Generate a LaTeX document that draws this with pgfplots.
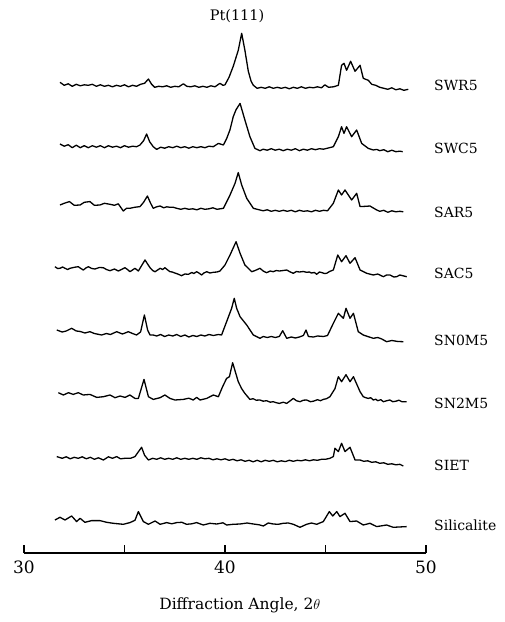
\documentclass[border=0pt]{standalone}
\usepackage{pgfplots}
\pgfplotsset{compat=1.18}
\usepackage{pgfplotstable}
\usepackage{fontspec}
\setmainfont{DejaVu Serif}

\pgfplotstableread{
x h
31.79 5
32.0 2
32.2 3.5
32.4 1
32.6 3
32.8 1.5
33.0 2.5
33.2 2
33.4 3
33.6 1
33.8 2.5
34.0 1
34.2 2
34.4 0.5
34.6 2
34.8 1
35.0 2.5
35.2 0.5
35.4 2
35.6 1
35.8 3
36.0 4
36.19 8.3
36.35 3
36.5 0
36.7 1
36.9 0.5
37.1 1.5
37.3 0
37.5 1
37.7 0.5
37.93 3.5
38.1 1
38.3 0.5
38.5 1.5
38.7 0
38.9 1
39.1 0
39.3 1.5
39.5 0.5
39.75 4
39.9 2
40.0 2.5
40.2 10
40.41 21
40.66 37
40.83 54
40.99 37
41.16 16
41.3 6
41.41 2
41.6 -1
41.8 0
42.0 -1
42.2 0.5
42.4 -1
42.6 0
42.8 -1
43.0 0
43.2 -1.5
43.4 0
43.6 -1
43.8 0.5
44.0 -1
44.2 0
44.4 -0.5
44.6 0.5
44.8 -0.5
44.97 2.5
45.15 0
45.4 0.5
45.64 2
45.80 22
45.92 24
46.05 17
46.25 26
46.47 16
46.72 22
46.88 9
47.0 8
47.13 7
47.3 3
47.5 2
47.7 0
47.9 -1
48.1 -2
48.3 -0.5
48.5 -2.5
48.7 -1.5
48.9 -3
49.12 -2
}\swrfive

\pgfplotstableread{
x h
31.79 2.7
32.0 0.5
32.2 2
32.4 -1
32.6 1.5
32.8 -1
33.0 1
33.2 -1
33.4 1
33.6 -0.5
33.8 1
34.0 -1
34.2 1
34.4 -0.5
34.6 0.5
34.8 -1
35.0 1
35.2 -0.5
35.4 0.5
35.6 0
35.77 1.7
35.95 6
36.10 12.7
36.25 5
36.43 0
36.6 -2.7
36.8 -0.5
37.0 -1.5
37.2 0
37.4 -1
37.6 0.5
37.8 -1
38.0 0
38.2 -1.5
38.4 0
38.6 -1
38.8 0
39.0 -1
39.2 0.5
39.42 0
39.67 3.3
39.92 1.7
40.08 8
40.25 17
40.41 30
40.55 37
40.75 43.3
40.99 26.7
41.24 10
41.49 -1.7
41.74 -4
41.9 -2.5
42.1 -3.5
42.3 -2
42.5 -3.5
42.7 -2.5
42.9 -4
43.1 -2.5
43.3 -3.5
43.5 -2
43.7 -4
43.9 -2.5
44.1 -3.5
44.3 -2
44.5 -3
44.7 -2
44.9 -2.5
45.1 -1.5
45.39 0
45.64 10
45.80 20
45.92 13.3
46.05 20
46.30 10
46.55 16.7
46.80 3.3
47.13 -1.7
47.38 -3.3
47.55 -2.7
47.7 -4
47.9 -3
48.1 -5
48.3 -3.5
48.5 -5
48.7 -4.5
48.84 -5
}\swcfive

\pgfplotstableread{
x h
31.79 3.3
32.0 5
32.26 6.7
32.5 3
32.79 3.3
33.0 6
33.28 6.7
33.5 3
33.78 3.3
34.0 5
34.28 4
34.5 3
34.69 4.5
34.94 -2.7
35.1 0
35.27 0
35.5 1
35.77 1.7
35.95 6
36.14 12.3
36.3 5
36.43 0
36.6 1.5
36.77 2.3
36.95 0.5
37.1 1.5
37.26 1
37.43 1
37.6 0
37.8 -1
38.0 0
38.2 -1
38.4 -0.5
38.6 -1.5
38.8 0
39.0 -1
39.2 -0.5
39.4 0.5
39.6 -1
39.92 0
40.25 13.3
40.50 25
40.66 35.7
40.83 23.3
41.08 10
41.41 0
41.74 -1.7
41.9 -2.5
42.1 -1.5
42.3 -3
42.5 -2
42.7 -3
42.9 -2
43.1 -3
43.3 -2
43.5 -3.5
43.7 -2
43.9 -3
44.1 -2.5
44.3 -3.5
44.5 -2
44.7 -3
44.9 -2
45.1 -2.5
45.39 5
45.64 18.3
45.80 13.3
45.97 18.3
46.30 8.3
46.55 15
46.72 1.7
47.0 2
47.21 2.3
47.55 -1.7
47.7 -3
47.9 -2
48.1 -4
48.3 -2.5
48.5 -3.5
48.7 -3
48.87 -3.5
}\sarfive

\pgfplotstableread{
x h
31.54 3.3
31.67 1.5
31.79 1.7
31.92 3
32.04 1.7
32.17 0.5
32.29 1.7
32.5 2.7
32.70 3.3
32.83 1.5
32.95 0
33.08 2
33.20 3.3
33.37 1.5
33.53 1
33.75 2.5
33.95 2.3
34.1 0.5
34.28 -0.7
34.5 1
34.69 -1
34.85 0.5
35.02 2.3
35.15 0.5
35.27 -1.7
35.4 0
35.52 1.7
35.69 -1
36.02 10
36.27 2.3
36.4 -0.5
36.52 -1.7
36.65 0
36.77 1.7
36.9 0.5
37.01 2.3
37.15 0
37.26 -1.7
37.38 -2
37.5 -3
37.65 -4
37.84 -5.7
38.0 -4
38.18 -4.3
38.35 -2.5
38.45 -3.5
38.59 -1.7
38.7 -3
38.84 -5
38.95 -3
39.09 -1.7
39.25 -3
39.42 -2.3
39.6 -2
39.75 -1
40.00 5
40.25 15
40.55 28.3
40.75 16.7
40.99 5
41.33 -1.7
41.5 -0.5
41.74 1.7
41.9 -1
42.07 -2.7
42.25 -1
42.40 -1.7
42.55 -0.5
42.7 -1
42.9 -0.5
43.07 0
43.25 -2
43.40 -3.3
43.55 -1.5
43.7 -2
43.9 -1.5
44.06 -2.3
44.2 -2
44.3 -3
44.45 -2.5
44.56 -4.3
44.7 -2
44.8 -2.5
44.95 -3.5
45.06 -3.3
45.2 -1.5
45.39 0
45.61 15
45.80 8.3
46.02 14.3
46.22 6.7
46.47 12.3
46.72 0
47.05 -3.3
47.38 -5
47.6 -4
47.88 -6.7
48.04 -5
48.21 -5
48.4 -7
48.54 -6.7
48.7 -5
49.04 -6.7
}\sacfive

\pgfplotstableread{
x h
31.63 5
31.9 3
32.1 4
32.37 6.7
32.6 4
32.8 3.5
33.03 2
33.28 3.3
33.5 1.5
33.86 0
34.1 1.5
34.3 0.5
34.61 3.3
34.9 1
35.19 3.3
35.4 1.5
35.60 0
35.8 3
35.99 20
36.15 5
36.27 0
36.43 0
36.6 -1
36.8 0.5
37.0 -1.5
37.2 0
37.4 -1
37.6 0.5
37.8 -1.5
38.0 0
38.2 -2
38.4 -0.5
38.6 -1.5
38.8 0
39.0 -1
39.2 0.5
39.42 -0.5
39.67 0.5
39.83 0
40.08 13.3
40.33 26.7
40.46 36.7
40.58 26.7
40.75 18.3
41.08 10
41.41 0
41.74 -3.3
41.9 -1.5
42.1 -2.5
42.3 -1.5
42.5 -2.5
42.7 -1.5
42.87 4.3
43.07 -3.3
43.3 -2
43.5 -3
43.7 -2
43.9 -0.5
44.03 5
44.15 -1.5
44.4 -2
44.6 -1
44.9 -1.5
45.1 -0.5
45.39 11.7
45.64 21.7
45.89 16.7
46.02 26.7
46.22 16.7
46.39 21.7
46.63 3.3
46.88 0
47.1 -1.5
47.38 -3.3
47.6 -2.5
47.8 -4
48.04 -6.7
48.3 -5.5
48.6 -6.5
48.87 -6.7
}\snzerom

\pgfplotstableread{
x h
31.71 4
31.96 1.7
32.21 4
32.45 2.3
32.70 4
32.95 1.7
33.28 2.3
33.62 -0.7
33.95 0
34.28 1.7
34.53 -1
34.78 0.7
35.03 -0.7
35.27 1.7
35.52 -1.7
35.69 -1.7
35.97 17.3
36.19 0
36.43 -2.7
36.77 -1
37.01 1.7
37.26 -1.7
37.51 -3.3
37.93 -2.7
38.2 -1.5
38.42 -3.3
38.59 -0.7
38.76 -3.3
39.09 -1.7
39.42 1.7
39.67 0
39.88 10
40.08 18.3
40.22 20
40.38 34
40.66 15
40.83 8
40.99 3.3
41.24 -2.7
41.4 -2
41.55 -3.5
41.74 -3.3
41.9 -4.5
42.07 -4
42.25 -5.5
42.4 -5
42.55 -6
42.7 -6.7
42.9 -5.5
43.07 -6.7
43.25 -4
43.40 -1.7
43.55 -4
43.73 -5
43.9 -3.5
44.06 -3.3
44.25 -5
44.4 -4.5
44.6 -3
44.75 -4
44.89 -2.7
45.05 -2
45.22 0
45.47 8
45.64 20
45.80 15
46.02 22
46.22 15
46.39 20
46.72 5
46.88 0
47.0 -1
47.13 -1.7
47.25 -1
47.38 -3.3
47.5 -2.5
47.6 -4
47.75 -3
47.88 -5
48.05 -4
48.2 -3.3
48.35 -5
48.5 -4.5
48.65 -3.5
48.8 -5
49.04 -5
}\sntwom

\pgfplotstableread{
x h
31.63 1.7
31.9 0
32.1 1.5
32.3 -0.5
32.5 1
32.7 0
32.9 1.5
33.1 -0.5
33.3 1
33.5 -1
33.7 0.5
33.95 -1.7
34.2 1.5
34.4 0
34.61 1.7
34.8 -0.5
35.02 0
35.3 0
35.52 1.7
35.85 11
36.0 3
36.19 -1.7
36.4 0
36.6 -1
36.8 0.5
37.0 -1
37.2 0
37.4 -1
37.6 0.5
37.8 -1
38.0 0
38.2 -1
38.4 0
38.6 -1
38.8 0.5
39.0 -0.5
39.2 0
39.4 -1.5
39.6 -0.5
39.8 -1.5
40.0 -0.5
40.2 -2
40.4 -1
40.6 -2.5
40.8 -1.5
41.0 -3
41.2 -2
41.4 -3.5
41.6 -2
41.8 -3.5
42.0 -2
42.2 -3
42.4 -2
42.6 -3.5
42.8 -2.5
43.0 -3.3
43.2 -2
43.4 -3
43.6 -2
43.8 -2.5
44.0 -1.5
44.2 -2.5
44.4 -1.5
44.6 -2
44.8 -1
45.0 -1
45.22 0
45.39 1.7
45.47 10
45.64 6.7
45.80 15
45.97 6.7
46.22 11
46.47 -1.7
46.72 -1.7
46.9 -3
47.1 -2.5
47.3 -4
47.5 -3.5
47.7 -5
47.9 -4.5
48.1 -6
48.3 -5.5
48.5 -6.5
48.7 -6
48.87 -7.7
}\siet

\pgfplotstableread{
x h
31.54 3.3
31.79 6
32.04 3.3
32.37 7.3
32.62 1.7
32.79 5
33.03 1
33.37 2.7
33.78 2.7
34.11 1
34.44 0
34.94 -1
35.27 0.7
35.52 3
35.69 11.7
35.94 1.7
36.19 -1
36.52 2.3
36.77 -1
37.10 0.7
37.35 -0.5
37.60 0.7
37.85 1
38.09 -1
38.35 -0.5
38.59 0.7
38.92 -1.7
39.25 0
39.59 -0.7
39.9 0.5
40.08 -1.7
40.4 -1
40.75 -0.7
41.1 0.3
41.41 -0.7
41.7 -1.5
41.91 -2.7
42.15 0.3
42.40 -0.7
42.65 -1
42.90 0
43.15 0.3
43.40 -1
43.73 -4
44.06 -1
44.3 0.3
44.56 -1
44.89 1.7
45.19 11.7
45.36 7.3
45.56 11.7
45.72 6.7
45.97 10
46.22 1.7
46.55 2.3
46.88 -1.7
47.21 0
47.55 -3.3
48.04 -1.7
48.37 -4
49.04 -3.3
}\silicalite

\begin{document}
\begin{tikzpicture}
\useasboundingbox (-24pt,-69pt) rectangle (481pt,553pt);
\begin{axis}[
  at={(0pt,0pt)}, anchor=south west,
  scale only axis, width=402pt, height=553pt,
  xmin=30, xmax=50, ymin=0, ymax=553,
  axis x line=bottom, axis y line=none,
  axis line style={line width=1.3pt,-},
  xtick={30,35,40,45,50}, xticklabels={30,,40,,50},
  tick align=inside, major tick length=8pt,
  every tick/.style={black, line width=1.3pt},
  xticklabel style={font=\fontsize{17}{20}\selectfont, yshift=-4pt},
  xlabel={Diffraction Angle, 2$\theta$},
  xlabel style={font=\fontsize{15.5}{18}\selectfont, at={(axis description cs:0.537,0)}, anchor=center, yshift=-52pt},
  clip=false,
  every axis plot post/.append style={black, solid, mark=none, line width=1.3pt, line join=round},
]
\addplot table[x=x, y expr=\thisrow{h}+465.7] {\swrfive};
\addplot table[x=x, y expr=\thisrow{h}+406.3] {\swcfive};
\addplot table[x=x, y expr=\thisrow{h}+344.7] {\sarfive};
\addplot table[x=x, y expr=\thisrow{h}+283] {\sacfive};
\addplot table[x=x, y expr=\thisrow{h}+218] {\snzerom};
\addplot table[x=x, y expr=\thisrow{h}+156.3] {\sntwom};
\addplot table[x=x, y expr=\thisrow{h}+94.7] {\siet};
\addplot table[x=x, y expr=\thisrow{h}+29.7] {\silicalite};
\begin{scope}[every node/.style={anchor=west, font=\fontsize{14}{16}\selectfont, inner sep=0pt}]
\node at (axis cs:50.4,468) {SWR5};
\node at (axis cs:50.4,405) {SWC5};
\node at (axis cs:50.4,341) {SAR5};
\node at (axis cs:50.4,280) {SAC5};
\node at (axis cs:50.4,213) {SN0M5};
\node at (axis cs:50.4,150) {SN2M5};
\node at (axis cs:50.4,88) {SIET};
\node at (axis cs:50.4,28) {Silicalite};
\end{scope}
\node[font=\fontsize{14.5}{17}\selectfont] at (axis cs:40.6,537) {Pt(111)};
\end{axis}
\end{tikzpicture}
\end{document}
